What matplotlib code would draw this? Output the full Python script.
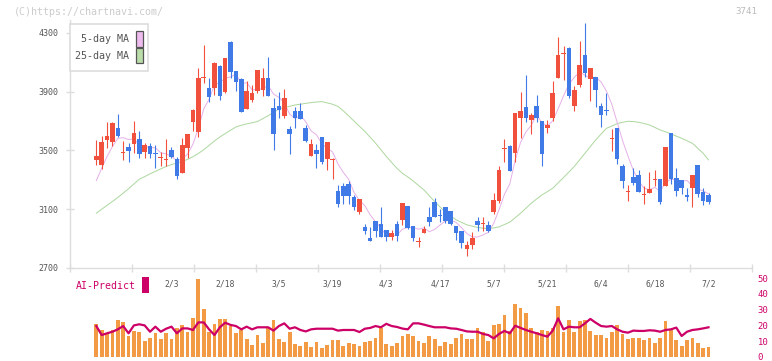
import numpy as np
import pandas as pd
import matplotlib
matplotlib.use("Agg")
import matplotlib.pyplot as plt
from matplotlib.patches import Rectangle

# daily prices (Jan 14 .. Jul 2)
opens = [3436, 3402, 3572, 3556, 3656, 3484, 3524, 3542, 3579, 3493,
         3533, 3486, 3450, 3434, 3504, 3443, 3350, 3515, 3697, 3629,
         3994, 3928, 3923, 4075, 3901, 4241, 4041, 3987, 3783, 3844,
         3907, 3912, 3996, 3787, 3803, 3737, 3647, 3769, 3769, 3656,
         3465, 3504, 3592, 3443, 3434, 3225, 3259, 3273, 3180, 3078,
         2976, 2903, 3021, 2998, 2960, 2908, 2998, 3030, 3123, 2983,
         2879, 2935, 3048, 3150, 3059, 3112, 3089, 2987, 2953, 2828,
         2856, 3021, 3001, 2994, 3080, 3159, 3513, 3531, 3486, 3724,
         3796, 3710, 3803, 3701, 3651, 3724, 3996, 4159, 4200, 3805,
         3946, 4150, 3984, 4000, 3803, 3773, 3579, 3654, 3395, 3216,
         3320, 3334, 3198, 3214, 3298, 3307, 3255, 3620, 3313, 3302,
         3198, 3248, 3402, 3218, 3198]
highs = [3572, 3599, 3697, 3697, 3749, 3565, 3554, 3701, 3633, 3549,
         3549, 3538, 3493, 3576, 3522, 3459, 3588, 3613, 3783, 4059,
         4218, 3991, 4100, 4082, 4132, 4247, 4041, 3991, 3973, 3946,
         4048, 4064, 4136, 3860, 3901, 3919, 3667, 3799, 3821, 3674,
         3576, 3547, 3592, 3561, 3447, 3266, 3279, 3293, 3198, 3171,
         2998, 2976, 3021, 3116, 2960, 2960, 3017, 3143, 3123, 2987,
         2912, 2987, 3112, 3175, 3105, 3116, 3089, 2987, 2953, 2885,
         2944, 3044, 3044, 3021, 3211, 3395, 3581, 3538, 3758, 3901,
         4014, 3753, 3878, 3701, 3708, 3973, 4270, 4211, 4207, 3939,
         4245, 4365, 4062, 4000, 3821, 3892, 3647, 3654, 3409, 3266,
         3381, 3368, 3257, 3354, 3368, 3307, 3524, 3620, 3381, 3302,
         3245, 3334, 3402, 3245, 3209]
lows = [3402, 3372, 3515, 3533, 3595, 3436, 3425, 3481, 3447, 3447,
        3447, 3379, 3395, 3397, 3447, 3307, 3345, 3447, 3633, 3590,
        3957, 3828, 3878, 3844, 3894, 3991, 3905, 3765, 3783, 3828,
        3894, 3871, 3873, 3504, 3724, 3724, 3479, 3656, 3717, 3556,
        3465, 3384, 3406, 3368, 3307, 3116, 3134, 3139, 3096, 3071,
        2933, 2881, 2914, 2908, 2885, 2892, 2881, 2994, 2967, 2885,
        2846, 2935, 2987, 3046, 3010, 3003, 2994, 2892, 2833, 2785,
        2826, 2955, 2949, 2944, 3071, 3141, 3425, 3363, 3425, 3583,
        3697, 3610, 3697, 3397, 3617, 3701, 3996, 3978, 3860, 3771,
        3935, 4003, 3839, 3799, 3663, 3742, 3499, 3406, 3248, 3153,
        3266, 3216, 3139, 3214, 3255, 3139, 3255, 3275, 3193, 3207,
        3153, 3112, 3180, 3132, 3139]
closes = [3463, 3561, 3599, 3688, 3601, 3488, 3497, 3620, 3479, 3538,
          3479, 3474, 3454, 3438, 3459, 3329, 3538, 3613, 3776, 3991,
          3998, 3867, 4093, 3873, 4132, 4037, 3969, 3765, 3907, 3889,
          4048, 3996, 3873, 3615, 3776, 3860, 3615, 3724, 3717, 3565,
          3547, 3479, 3425, 3561, 3438, 3139, 3191, 3187, 3116, 3171,
          2955, 2881, 2949, 2908, 2908, 2939, 2921, 3143, 2971, 2903,
          2883, 2967, 3012, 3048, 3055, 3017, 2998, 2935, 2867, 2858,
          2901, 2994, 3005, 2955, 3164, 3368, 3517, 3363, 3758, 3769,
          3724, 3742, 3724, 3479, 3674, 3892, 4150, 4163, 3871, 3912,
          4082, 4030, 4062, 3914, 3744, 3769, 3583, 3445, 3295, 3220,
          3282, 3220, 3202, 3239, 3302, 3146, 3524, 3307, 3227, 3243,
          3180, 3334, 3207, 3159, 3146]

# first 5-day MA points (need closes before the window)
ma5_head = [3295, 3379, 3459, 3527]
ma25 = [3073, 3100, 3127, 3153, 3180, 3210, 3240, 3272, 3304, 3322,
        3341, 3358, 3375, 3391, 3404, 3415, 3425, 3440, 3458, 3480,
        3505, 3535, 3565, 3592, 3615, 3638, 3660, 3672, 3681, 3689,
        3697, 3717, 3737, 3760, 3783, 3792, 3801, 3810, 3815, 3821,
        3826, 3830, 3833, 3824, 3815, 3800, 3770, 3735, 3700, 3665,
        3630, 3590, 3550, 3505, 3460, 3418, 3378, 3345, 3320, 3293,
        3262, 3232, 3192, 3153, 3116, 3080, 3054, 3028, 3011, 2994,
        2985, 2976, 2971, 2967, 2973, 2980, 2996, 3012, 3042, 3073,
        3107, 3141, 3170, 3198, 3220, 3243, 3280, 3316, 3353, 3391,
        3436, 3481, 3527, 3572, 3612, 3651, 3667, 3683, 3692, 3699,
        3697, 3692, 3684, 3674, 3657, 3640, 3627, 3613, 3598, 3583,
        3566, 3549, 3515, 3481, 3436]

volume = [20.9, 17.1, 14.3, 17.1, 23.4, 22.4, 13.3, 16.7, 15.8, 10.1,
          12.2, 15.2, 11.4, 15.2, 11.4, 18.4, 20.3, 15.8, 24.7, 49.4,
          30.4, 15.8, 20.9, 24.1, 24.1, 19.6, 15.2, 17.1, 11.4, 7.6,
          13.9, 8.9, 18.4, 23.4, 11.4, 9.5, 15.8, 8.2, 7.0, 9.5,
          6.3, 9.5, 5.7, 7.6, 10.8, 10.8, 7.0, 8.9, 8.2, 7.0,
          9.5, 10.1, 12.0, 18.4, 8.2, 7.0, 8.9, 13.3, 14.6, 13.3,
          10.1, 8.9, 13.3, 11.4, 7.0, 9.5, 8.2, 12.0, 14.6, 11.4,
          11.4, 18.4, 15.8, 10.1, 20.3, 20.9, 26.6, 16.5, 33.5, 31.2,
          27.8, 18.4, 15.8, 17.1, 16.5, 18.4, 32.3, 15.8, 23.4, 15.8,
          22.8, 23.4, 16.5, 13.9, 13.9, 12.0, 15.8, 20.3, 14.6, 11.4,
          12.0, 12.0, 10.8, 12.0, 8.9, 12.0, 22.8, 17.1, 10.8, 7.0,
          10.8, 12.0, 8.9, 5.7, 6.3]
ai_predict = [19.6, 13.9, 15.0, 16.0, 17.5, 19.6, 15.0, 20.0, 20.7, 20.0,
              16.0, 19.2, 16.0, 17.9, 19.2, 15.0, 18.1, 18.1, 17.1, 21.9,
              21.9, 17.5, 13.9, 18.8, 21.7, 20.3, 19.6, 17.5, 19.2, 17.5,
              18.8, 18.8, 18.8, 16.7, 19.6, 21.3, 17.9, 18.8, 17.1, 16.2,
              17.5, 17.9, 17.9, 17.9, 17.9, 16.7, 17.1, 17.1, 17.1, 15.8,
              17.9, 18.4, 19.6, 18.8, 21.0, 19.6, 19.0, 18.0, 17.5, 21.3,
              21.3, 20.5, 19.6, 18.8, 18.8, 18.8, 18.1, 17.9, 17.1, 16.2,
              16.0, 16.0, 14.6, 13.9, 11.8, 14.6, 16.5, 15.0, 19.8, 18.4,
              17.1, 16.0, 15.0, 13.9, 12.9, 16.7, 24.5, 17.5, 19.2, 18.8,
              18.8, 21.3, 24.1, 21.7, 19.6, 19.2, 19.6, 17.5, 16.0, 15.4,
              16.7, 16.5, 16.5, 16.9, 16.7, 16.0, 17.1, 17.5, 18.6, 13.3,
              16.0, 17.1, 17.5, 18.1, 18.8]

date_labels = ['2/3', '2/18', '3/5', '3/19', '4/3', '4/17', '5/7', '5/21', '6/4', '6/18', '7/2']
label_idx = [14, 24, 34, 44, 54, 64, 74, 84, 94, 104, 114]
price_ticks = [2700, 3100, 3500, 3900, 4300]
vol_ticks = [0, 10, 20, 30, 40, 50]

RED = '#f0503c'
BLUE = '#3f7ae6'
MAG = '#cc0066'
W, H = 772, 361

plt.rcParams['font.family'] = ['DejaVu Sans Mono']

fig = plt.figure(figsize=(W / 100, H / 100), dpi=100)


def box(l, t, r, b):
    return [l / W, 1 - b / H, (r - l) / W, (b - t) / H]


def fx(px):
    return px / W


def fy(py):
    return 1 - py / H


x = np.arange(len(closes))
xlo, xhi = -4.9, 122.1

# ---- price panel
ax = fig.add_axes(box(70, 20, 752, 268))
o = np.array(opens, float)
c = np.array(closes, float)
cols = np.where(c >= o, RED, BLUE)

ma5 = pd.Series(closes, dtype=float).rolling(5).mean().to_numpy()
ma5[:4] = ma5_head
ax.plot(x, ma25, color='#acd79e', lw=0.7, zorder=1)
ax.plot(x, ma5, color='#e6b0e8', lw=0.7, zorder=1)

ax.vlines(x, lows, highs, colors=cols, lw=0.8, zorder=2)
body = np.abs(c - o)
hgt = np.maximum(body, 7)
bot = np.minimum(o, c) - (hgt - body) / 2
ax.bar(x, hgt, bottom=bot, width=0.85, color=cols, zorder=3)

ax.set_xlim(xlo, xhi)
ax.set_ylim(2700, 2700 + 248 * 1600 / 235)
for s in ['top', 'right']:
    ax.spines[s].set_visible(False)
for s in ['left', 'bottom']:
    ax.spines[s].set_color('#dddddd')
    ax.spines[s].set_linewidth(1.0)
ax.set_yticks(price_ticks)
ax.set_xticks(np.linspace(xlo, xhi, 12))
ax.set_xticklabels([])
ax.set_xticks(label_idx, minor=True)
ax.set_xticklabels(date_labels, minor=True)
ax.tick_params(axis='both', which='major', direction='inout', length=6, width=1,
               color='#dddddd', labelcolor='#555555', labelsize=6, pad=5)
ax.tick_params(axis='x', which='minor', length=0, labelsize=5.8,
               labelcolor='#555555', pad=8)

# ---- volume / AI-Predict panel
axv = fig.add_axes(box(70, 270, 752, 357))
axv.bar(x, volume, width=0.7, color='#f29a44', zorder=1)
axv.plot(x, ai_predict, color=MAG, lw=1.6, zorder=2)
axv.set_xlim(xlo, xhi)
axv.set_ylim(0, (357 - 270) / 79 * 50)
axv.set_xticks([])
axv.yaxis.tick_right()
axv.set_yticks(vol_ticks)
axv.tick_params(axis='y', length=0, labelcolor=MAG, labelsize=6.4, pad=4)
for s in axv.spines.values():
    s.set_visible(False)
axv.patch.set_alpha(0)

fig.text(fx(76), fy(286), 'AI-Predict', color=MAG, fontsize=7.1, va='center')
fig.add_artist(Rectangle((fx(142), fy(293)), 7 / W, 16 / H, transform=fig.transFigure,
                         facecolor=MAG, edgecolor='none'))

# ---- legend box
fig.add_artist(Rectangle((fx(70), fy(71)), 78 / W, 47 / H, transform=fig.transFigure,
                         facecolor='white', edgecolor='#dddddd', lw=1.2, zorder=5))
fig.text(fx(129), fy(39), '5-day MA', ha='right', va='center', color='#555555',
         fontsize=7.2, zorder=6)
fig.text(fx(129), fy(56), '25-day MA', ha='right', va='center', color='#555555',
         fontsize=7.2, zorder=6)
fig.add_artist(Rectangle((fx(136), fy(46.5)), 6.5 / W, 15.5 / H, transform=fig.transFigure,
                         facecolor='#eebbee', edgecolor='#555555', lw=0.9, zorder=6))
fig.add_artist(Rectangle((fx(136), fy(63)), 6.5 / W, 15 / H, transform=fig.transFigure,
                         facecolor='#bbddaa', edgecolor='#555555', lw=0.9, zorder=6))

# ---- watermark / code
fig.text(fx(14), fy(12), '(C)https://chartnavi.com/', color='#cccccc', fontsize=7.2, va='center')
fig.text(fx(757), fy(12), '3741', color='#bbbbbb', fontsize=6.6, va='center', ha='right')

fig.savefig('out.png', dpi=100)
